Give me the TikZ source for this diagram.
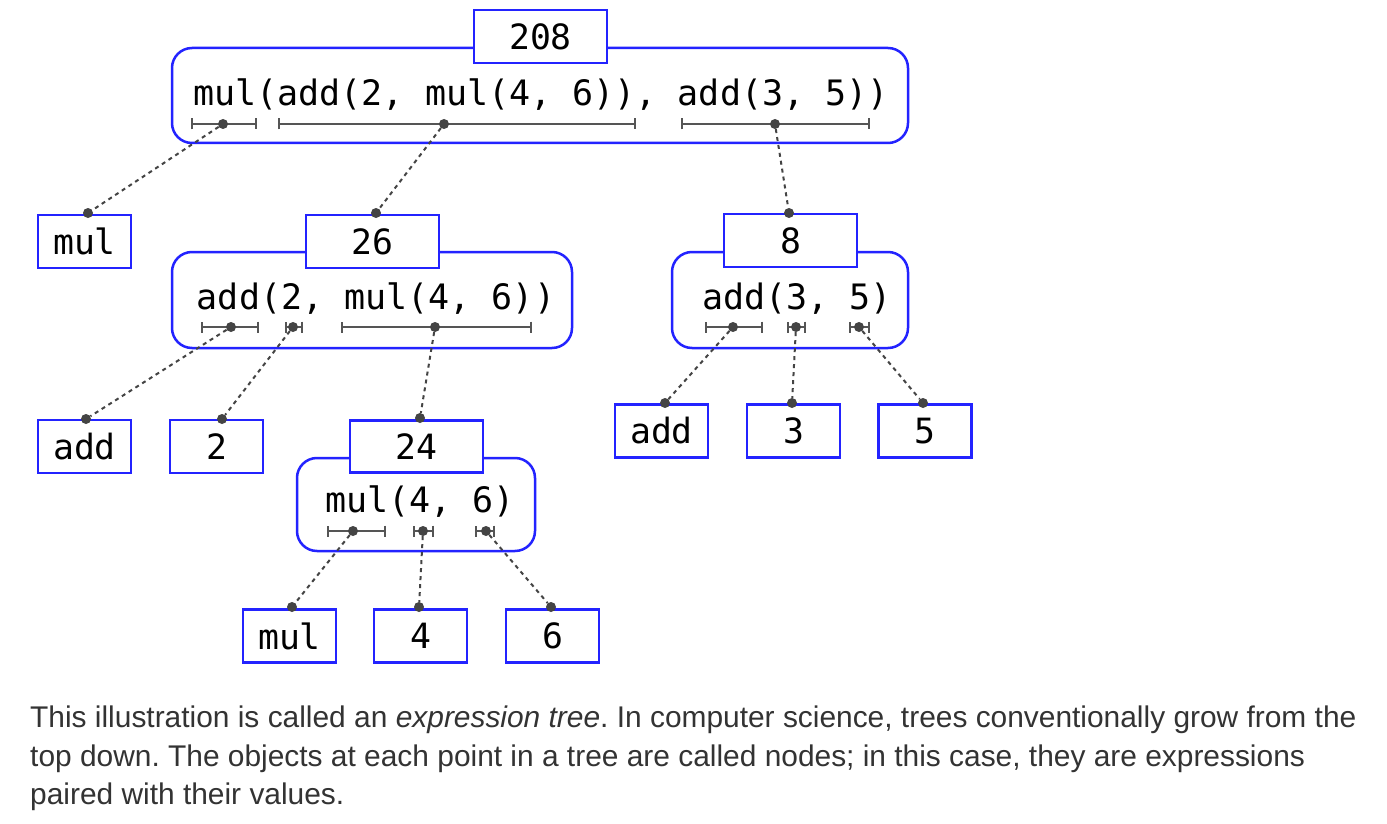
\documentclass[tikz,border=0pt]{standalone}
\usepackage{fontspec}
\usetikzlibrary{arrows.meta}
\newfontfamily\monofont{DejaVu Sans Mono}
\newfontfamily\capfont{Liberation Sans}
\definecolor{boxblue}{RGB}{35,35,255}
\definecolor{dotgray}{RGB}{68,68,68}
\definecolor{brgray}{RGB}{85,85,85}
\definecolor{captext}{RGB}{51,51,51}
\frenchspacing
\tikzset{
  valbox/.style={draw=boxblue, line width=2.5pt, fill=white, inner sep=0pt,
    minimum width=133pt, minimum height=53pt, font=\monofont\fontsize{34.8}{40}\selectfont},
  leafbox/.style={valbox, minimum width=93pt},
  expbox/.style={draw=boxblue, line width=2.5pt, fill=white, rounded corners=20pt, inner sep=0pt},
  exptext/.style={anchor=base, inner sep=0pt, font=\monofont\fontsize{35}{40}\selectfont},
  bracket/.style={line width=2pt, draw=brgray, {Bar[width=11pt]}-{Bar[width=11pt]}},
  dot/.style={circle, fill=dotgray, inner sep=0pt, minimum size=10pt},
  conn/.style={draw=dotgray, line width=2pt, dash pattern=on 4pt off 4pt},
  captionline/.style={anchor=base west, inner sep=0pt, text=captext, font=\capfont\fontsize{29.9}{39}\selectfont}
}
\begin{document}
\begin{tikzpicture}[x=1pt,y=-1pt]
\useasboundingbox (0,0) rectangle (1387,824);
\fill[white] (0,0) rectangle (1387,824);

% expression boxes
\node[expbox, minimum width=736pt, minimum height=95pt] (e1) at (540,95.5) {};
\node[expbox, minimum width=400pt, minimum height=96pt] (e2) at (372,300) {};
\node[expbox, minimum width=236pt, minimum height=96pt] (e3) at (790,300) {};
\node[expbox, minimum width=238pt, minimum height=93pt] (e4) at (416,504.5) {};

% value boxes
\node[valbox] (v208) at (540.5,36.5) {208};
\node[valbox] (v26) at (372.5,241.5) {26};
\node[valbox] (v8) at (790.5,240.5) {8};
\node[valbox, minimum height=52pt] (v24) at (416.5,446.5) {24};

% leaf boxes
\node[leafbox] (mulA) at (84.5,241.5) {mul};
\node[leafbox] (addB) at (84.5,446.5) {add};
\node[leafbox] (two) at (216.5,446.5) {2};
\node[leafbox] (addC) at (661.5,431) {add};
\node[leafbox] (three) at (793.5,431) {3};
\node[leafbox] (five) at (925,431) {5};
\node[leafbox] (mulD) at (289.5,636) {mul};
\node[leafbox] (four) at (420.5,636) {4};
\node[leafbox] (six) at (552.5,636) {6};

% expression texts
\node[exptext] (t1) at (541,105.5) {mul(add(2, mul(4, 6)), add(3, 5))};
\node[exptext] (t2) at (376,309) {add(2, mul(4, 6))};
\node[exptext] (t3) at (797,309) {add(3, 5)};
\node[exptext] (t4) at (420,512.5) {mul(4, 6)};

% brackets
\draw[bracket] (191,124) -- (257,124);
\draw[bracket] (278,124) -- (636,124);
\draw[bracket] (681,124) -- (870,124);
\draw[bracket] (201,327) -- (259,327);
\draw[bracket] (285,327) -- (303,327);
\draw[bracket] (341,327) -- (532,327);
\draw[bracket] (705,327) -- (763,327);
\draw[bracket] (787,327) -- (806,327);
\draw[bracket] (849,327) -- (870,327);
\draw[bracket] (327,531) -- (386,531);
\draw[bracket] (413,531) -- (434,531);
\draw[bracket] (475,531) -- (495,531);

% bracket dots
\node[dot] (b11) at (223,124) {};
\node[dot] (b12) at (444,124) {};
\node[dot] (b13) at (775,124) {};
\node[dot] (b21) at (231,327) {};
\node[dot] (b22) at (293,327) {};
\node[dot] (b23) at (435,327) {};
\node[dot] (b31) at (733,327) {};
\node[dot] (b32) at (796,327) {};
\node[dot] (b33) at (859,327) {};
\node[dot] (b41) at (353,531) {};
\node[dot] (b42) at (423,531) {};
\node[dot] (b43) at (486,531) {};

% child dots
\node[dot] (pmulA) at (88,213) {};
\node[dot] (p26) at (376,213) {};
\node[dot] (p8) at (789,213) {};
\node[dot] (paddB) at (86,419) {};
\node[dot] (ptwo) at (222,419) {};
\node[dot] (p24) at (420,418) {};
\node[dot] (paddC) at (665,403) {};
\node[dot] (pthree) at (792,403) {};
\node[dot] (pfive) at (923,403) {};
\node[dot] (pmulD) at (292,607) {};
\node[dot] (pfour) at (419,607) {};
\node[dot] (psix) at (551,607) {};

% connectors
\draw[conn] (b11) -- (pmulA);
\draw[conn] (b12) -- (p26);
\draw[conn] (b13) -- (p8);
\draw[conn] (b21) -- (paddB);
\draw[conn] (b22) -- (ptwo);
\draw[conn] (b23) -- (p24);
\draw[conn] (b31) -- (paddC);
\draw[conn] (b32) -- (pthree);
\draw[conn] (b33) -- (pfive);
\draw[conn] (b41) -- (pmulD);
\draw[conn] (b42) -- (pfour);
\draw[conn] (b43) -- (psix);

% caption
\node[captionline] (c1) at (30,727.5) {This illustration is called an \textit{expression tree}. In computer science, trees conventionally grow from the};
\node[captionline] (c2) at (30,766.5) {top down. The objects at each point in a tree are called nodes; in this case, they are expressions};
\node[captionline] (c3) at (30,804.5) {paired with their values.};
\end{tikzpicture}
\end{document}
